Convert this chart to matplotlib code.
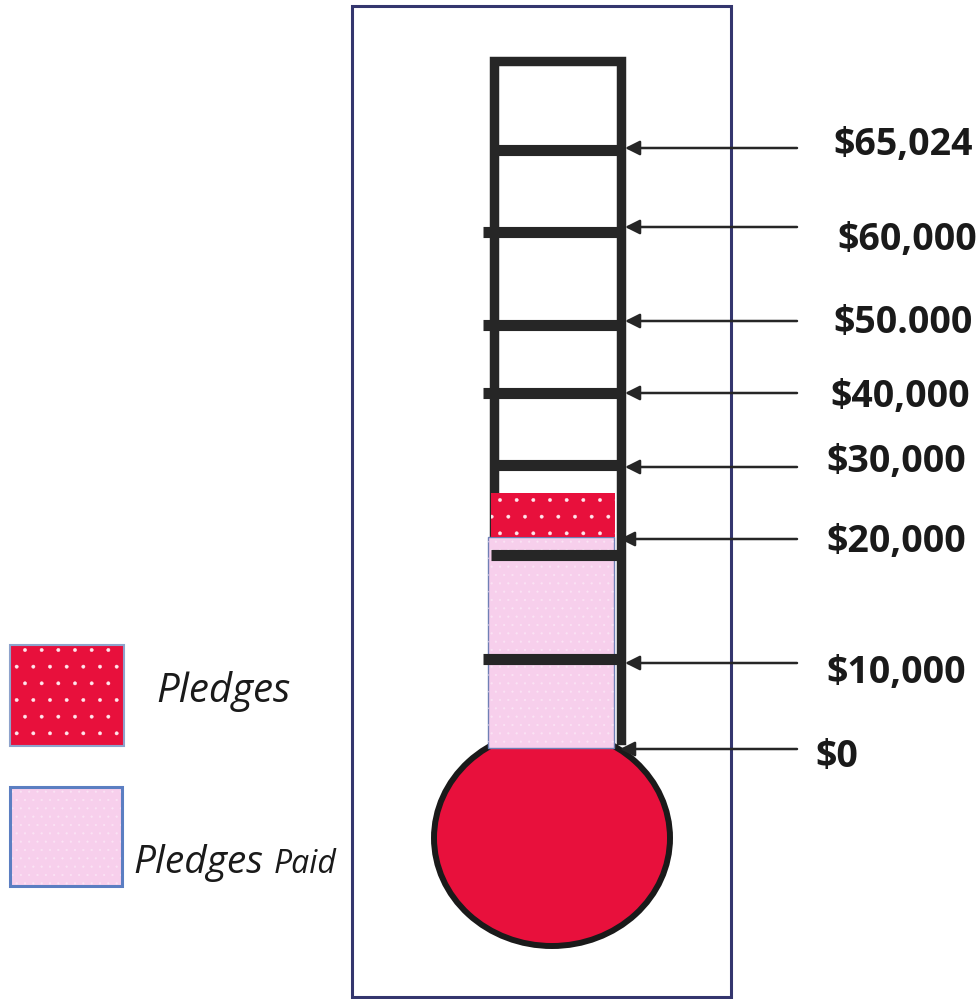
import numpy as np
import matplotlib
matplotlib.use('Agg')
import matplotlib.pyplot as plt
from matplotlib.patches import Rectangle, Ellipse

# Thermometer values
tick_values = [0, 10000, 20000, 30000, 40000, 50000, 60000, 65024]
tick_labels = ['$0', '$10,000', '$20,000', '$30,000', '$40,000', '$50.000', '$60,000', '$65,024']
pledges_paid = 22000
pledges = 26900

# hand drawn scale: pixel row of each tick bar in the tube (not evenly spaced)
tick_rows = [748, 659, 555, 465, 393, 325, 232, 150]
bar_left = [None, 483, 491, 492, 483, 483, 483, 490]
bar_right = [None, 617, 617, 623, 623, 623, 623, 625]
arrow_rows = [749, 663, 539, 467, 393, 321, 227, 148]
arrow_tip = [620, 625, 620, 625, 625, 625, 625, 625]
label_x = [815, 826, 826, 826, 830, 833, 837, 833]
label_base = [767, 683, 552, 472, 407, 333, 250, 155]

RED = '#e8103c'
PINK = '#f7cfec'
DARK = '#262626'
NAVY = '#34366e'

plt.rcParams['font.family'] = ['Open Sans', 'DejaVu Sans']
plt.rcParams['hatch.linewidth'] = 0.3


def to_px(v):
    return np.interp(v, tick_values, tick_rows)


fig = plt.figure(figsize=(9.8, 9.99), dpi=100)
ax = fig.add_axes([0, 0, 1, 1])
ax.set_xlim(0, 980)
ax.set_ylim(999, 0)
ax.axis('off')

# outer frame
ax.add_patch(Rectangle((352, 6), 379, 991, fill=False, ec=NAVY, lw=2.2, zorder=1))

# tube outline
ax.plot([494, 494, 621, 621], [748, 61, 61, 740], color=DARK, lw=6.8,
        solid_joinstyle='miter', zorder=2)

# bulb
ax.add_patch(Ellipse((552, 838), 236, 216, fc=RED, ec='#1a1a1a', lw=4.3, zorder=3))

# pledges paid (pink) and pledges (red)
y0 = to_px(0)
y_paid = to_px(pledges_paid)
y_pledged = to_px(pledges)
ax.bar(551, y_paid - y0, width=126, bottom=y0, color=PINK, ec='#6f7fb5', lw=1, zorder=4)
ax.bar(551, y_paid - y0, width=126, bottom=y0, color='none', ec='#fbe4f5', lw=0,
       hatch='..', zorder=4)
ax.bar(553, y_pledged - y_paid, width=124, bottom=y_paid, color=RED, ec='#ffe6ec', lw=0,
       hatch='.', zorder=5)

# tick bars, arrows and labels
for i, lab in enumerate(tick_labels):
    if bar_left[i] is not None:
        ax.plot([bar_left[i], bar_right[i]], [tick_rows[i], tick_rows[i]], color=DARK,
                lw=8, solid_capstyle='butt', zorder=6)
    ax.annotate('', xy=(arrow_tip[i], arrow_rows[i]), xytext=(797, arrow_rows[i]),
                arrowprops=dict(arrowstyle='-|>', mutation_scale=22, lw=1.8, color=DARK,
                                shrinkA=0, shrinkB=0), zorder=7)
    ax.text(label_x[i], label_base[i], lab, fontsize=27, fontweight='bold',
            color='#1a1a1a', ha='left', va='baseline')

# legend
ax.add_patch(Rectangle((10, 645), 114, 101, fc=RED, ec='#ffe6ec', lw=0, hatch='.', zorder=2))
ax.add_patch(Rectangle((10, 645), 114, 101, fill=False, ec='#8ea3cc', lw=1.5, zorder=3))
ax.add_patch(Rectangle((10, 787), 112, 99, fc=PINK, ec='#fbe4f5', lw=0, hatch='..', zorder=2))
ax.add_patch(Rectangle((10, 787), 112, 99, fill=False, ec='#5b7ec2', lw=2.2, zorder=3))
ax.text(156, 702, 'Pledges', fontsize=29, fontstyle='italic', color='#1a1a1a',
        ha='left', va='baseline')
ax.text(133, 873, 'Pledges', fontsize=28, fontstyle='italic', color='#1a1a1a',
        ha='left', va='baseline')
ax.text(274, 873, 'Paid', fontsize=23, fontstyle='italic', color='#1a1a1a',
        ha='left', va='baseline')

fig.savefig('out.png', dpi=100)
